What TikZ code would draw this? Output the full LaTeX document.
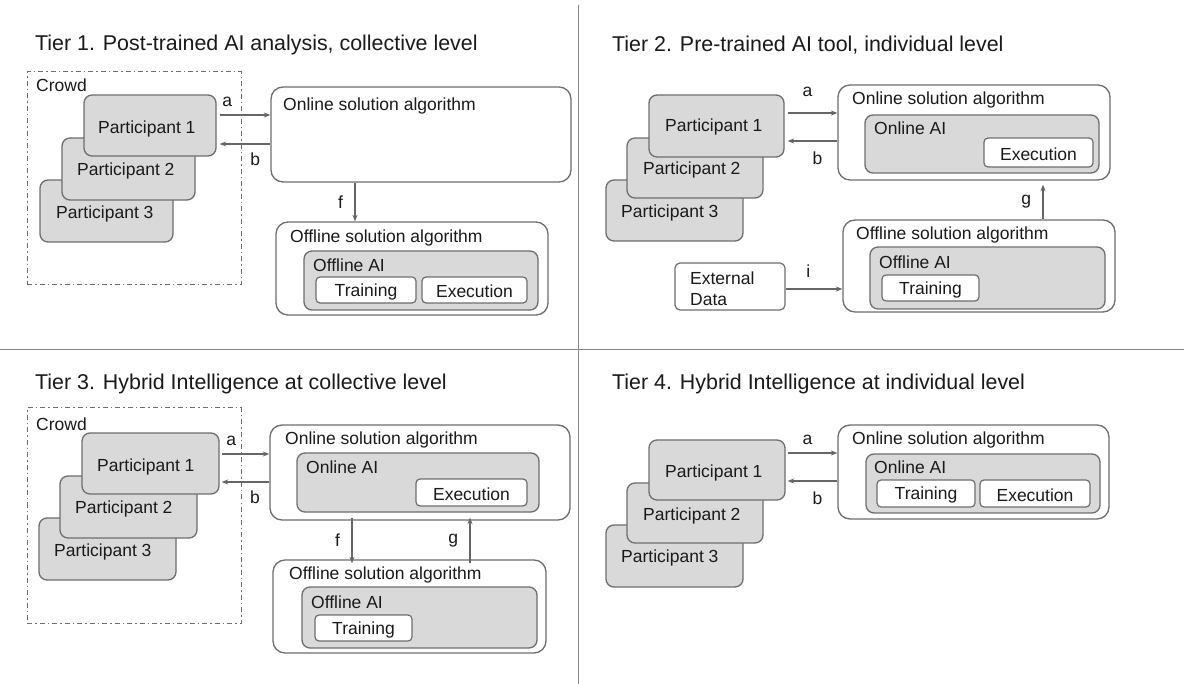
\documentclass[tikz,border=0pt]{standalone}
\usepackage{fontspec}
\setmainfont{Liberation Sans}
\usetikzlibrary{arrows.meta,fit,calc}
\definecolor{boxgray}{HTML}{D9D9D9}
\definecolor{linegray}{HTML}{6E6E6E}
\definecolor{txt}{HTML}{1A1A1A}
\definecolor{arrgray}{HTML}{666666}
\definecolor{divgray}{HTML}{888888}
\begin{document}
\begin{tikzpicture}[x=1pt,y=-1pt, font=\fontsize{17.5}{20}\selectfont, text=txt,
 outer/.style={draw=linegray, line width=1.3pt, rounded corners=12pt, fill=white, inner sep=0pt},
 gbox/.style={draw=linegray, line width=1.3pt, rounded corners=8pt, fill=boxgray, inner sep=0pt},
 wbox/.style={draw=linegray, line width=1.2pt, rounded corners=4pt, fill=white, inner sep=0pt},
 part/.style={gbox},
 crowd/.style={draw=linegray, line width=1pt, dash pattern=on 5pt off 3pt on 1.5pt off 3pt, inner sep=0pt},
 arr/.style={draw=arrgray, line width=1.2pt, -{Stealth[length=6.5pt,width=5pt]}},
 lbl/.style={anchor=west, inner sep=0pt, yshift=-1.5pt},
 ctr/.style={inner sep=0pt, yshift=-1.5pt},
 ttl/.style={anchor=west, inner sep=0pt, font=\fontsize{21.4}{24}\selectfont},
 divider/.style={draw=divgray, line width=1pt},
]
\useasboundingbox[fill=white] (0,0) rectangle (1184,684);
% dividers
\coordinate (vt) at (578,5);
\coordinate (vb) at (578,684);
\coordinate (hl) at (0,350);
\coordinate (hr) at (1184,350);
\draw[divider] (vt) -- (vb);
\draw[divider] (hl) -- (hr);

% ================= Tier 1 =================
\node[ttl] (t1) at (35,45) {Tier 1. Post-trained AI analysis, collective level};
\node[crowd, fit={(27,72) (241,285)}] (cr1) {};
\node[lbl] (cr1l) at (36,84) {Crowd};
\node[part, fit={(40,180) (173,242)}] (p13) {};
\node[lbl] (p13t) at (56,212) {Participant 3};
\node[part, fit={(62,138) (195,200)}] (p12) {};
\node[lbl] (p12t) at (77,169) {Participant 2};
\node[part, fit={(84,95) (216,156)}] (p11) {};
\node[lbl] (p11t) at (98,127) {Participant 1};
\node[outer, fit={(271,87) (571,182)}] (on1) {};
\node[lbl] (on1t) at (283,104) {Online solution algorithm};
\node[outer, fit={(276,222) (548,315)}] (of1) {};
\node[lbl] (of1t) at (290,236) {Offline solution algorithm};
\node[gbox, fit={(304,251) (538,310)}] (oa1) {};
\node[lbl] (oa1t) at (313,264) {Offline AI};
\node[wbox, fit={(316,277) (416,303)}] (tr1) {};
\node[ctr] (tr1t) at (tr1) {Training};
\node[wbox, fit={(422,277) (527,303)}] (ex1) {};
\node[ctr] (ex1t) at (ex1) {Execution};
\draw[arr] ([xshift=3pt]p11.east |- 0,115) -- (on1.west |- 0,115) node[pos=0.15, above=4pt] (a1) {a};
\draw[arr] (on1.west |- 0,144) -- ([xshift=3pt]p11.east |- 0,144) node[pos=0.3, below=5pt] (b1) {b};
\draw[arr] (on1.south -| 355,0) -- (of1.north -| 355,0) node[midway, left=8pt] (f1) {f};

% ================= Tier 2 =================
\node[ttl] (t2) at (612,45) {Tier 2. Pre-trained AI tool, individual level};
\node[part, fit={(606,180) (743,241)}] (p23) {};
\node[lbl] (p23t) at (621,211) {Participant 3};
\node[part, fit={(627,138) (763,198)}] (p22) {};
\node[lbl] (p22t) at (643,168) {Participant 2};
\node[part, fit={(649,95) (784,157)}] (p21) {};
\node[lbl] (p21t) at (665,125) {Participant 1};
\node[outer, fit={(838,85) (1110,180)}] (on2) {};
\node[lbl] (on2t) at (852,98) {Online solution algorithm};
\node[gbox, fit={(865,115) (1099,173)}] (oa2) {};
\node[lbl] (oa2t) at (874,127) {Online AI};
\node[wbox, fit={(984,138) (1093,167)}] (ex2) {};
\node[ctr] (ex2t) at (ex2) {Execution};
\node[outer, fit={(843,220) (1115,312)}] (of2) {};
\node[lbl] (of2t) at (856,233) {Offline solution algorithm};
\node[gbox, fit={(870,247) (1105,309)}] (ofa2) {};
\node[lbl] (ofa2t) at (879,261) {Offline AI};
\node[wbox, fit={(882,275) (979,301)}] (tr2) {};
\node[ctr] (tr2t) at (tr2) {Training};
\node[wbox, fit={(675,263) (785,310)}, rounded corners=5pt] (ext) {};
\node[lbl, align=left, font=\fontsize{17.5}{21}\selectfont] (extt) at (690,287) {External\\Data};
\draw[arr] ([xshift=3pt]p21.east |- 0,113) -- (on2.west |- 0,113) node[pos=0.4, above=12pt] (a2) {a};
\draw[arr] (on2.west |- 0,141) -- ([xshift=3pt]p21.east |- 0,141) node[pos=0.4, below=7pt] (b2) {b};
\draw[arr] (of2.north -| 1043,0) -- ([yshift=-4pt]on2.south -| 1043,0) node[midway, left=8pt] (g2) {g};
\draw[arr] (ext.east |- 0,289) -- (of2.west |- 0,289) node[pos=0.4, above=8pt] (i2) {i};

% ================= Tier 3 =================
\node[ttl] (t3) at (35,384) {Tier 3. Hybrid Intelligence at collective level};
\node[crowd, fit={(27,408) (241,623)}] (cr3) {};
\node[lbl] (cr3l) at (36,423) {Crowd};
\node[part, fit={(39,518) (176,580)}] (p33) {};
\node[lbl] (p33t) at (54,550) {Participant 3};
\node[part, fit={(60,476) (197,538)}] (p32) {};
\node[lbl] (p32t) at (75,507) {Participant 2};
\node[part, fit={(82,433) (219,494)}] (p31) {};
\node[lbl] (p31t) at (97,465) {Participant 1};
\node[outer, fit={(270,425) (570,520)}] (on3) {};
\node[lbl] (on3t) at (285,438) {Online solution algorithm};
\node[gbox, fit={(297,453) (539,512)}] (oa3) {};
\node[lbl] (oa3t) at (306,466) {Online AI};
\node[wbox, fit={(416,479) (527,506)}] (ex3) {};
\node[ctr] (ex3t) at (ex3) {Execution};
\node[outer, fit={(273,560) (546,653)}] (of3) {};
\node[lbl] (of3t) at (289,573) {Offline solution algorithm};
\node[gbox, fit={(302,587) (537,648)}] (ofa3) {};
\node[lbl] (ofa3t) at (311,601) {Offline AI};
\node[wbox, fit={(315,615) (412,641)}] (tr3) {};
\node[ctr] (tr3t) at (tr3) {Training};
\draw[arr] ([xshift=2pt]p31.east |- 0,454) -- (on3.west |- 0,454) node[pos=0.2, above=4pt] (a3) {a};
\draw[arr] (on3.west |- 0,482) -- ([xshift=2pt]p31.east |- 0,482) node[pos=0.3, below=5pt] (b3) {b};
\draw[arr] ([yshift=3pt]on3.south -| 352,0) -- ([yshift=-4pt]of3.north -| 352,0) node[midway, left=8pt] (f3) {f};
\draw[arr] ([yshift=-4pt]of3.north -| 470,0) -- ([yshift=3pt]on3.south -| 470,0) node[midway, left=8pt] (g3) {g};

% ================= Tier 4 =================
\node[ttl] (t4) at (612,384) {Tier 4. Hybrid Intelligence at individual level};
\node[part, fit={(606,525) (743,587)}] (p43) {};
\node[lbl] (p43t) at (621,556) {Participant 3};
\node[part, fit={(627,483) (763,543)}] (p42) {};
\node[lbl] (p42t) at (643,514) {Participant 2};
\node[part, fit={(649,440) (785,500)}] (p41) {};
\node[lbl] (p41t) at (665,471) {Participant 1};
\node[outer, fit={(838,425) (1109,519)}] (on4) {};
\node[lbl] (on4t) at (852,438) {Online solution algorithm};
\node[gbox, fit={(866,454) (1100,513)}] (oa4) {};
\node[lbl] (oa4t) at (874,466) {Online AI};
\node[wbox, fit={(877,480) (975,507)}] (tr4) {};
\node[ctr] (tr4t) at (tr4) {Training};
\node[wbox, fit={(980,480) (1090,507)}] (ex4) {};
\node[ctr] (ex4t) at (ex4) {Execution};
\draw[arr] ([xshift=2pt]p41.east |- 0,453) -- (on4.west |- 0,453) node[pos=0.4, above=4pt] (a4) {a};
\draw[arr] (on4.west |- 0,481) -- ([xshift=2pt]p41.east |- 0,481) node[pos=0.4, below=7pt] (b4) {b};
\end{tikzpicture}
\end{document}
